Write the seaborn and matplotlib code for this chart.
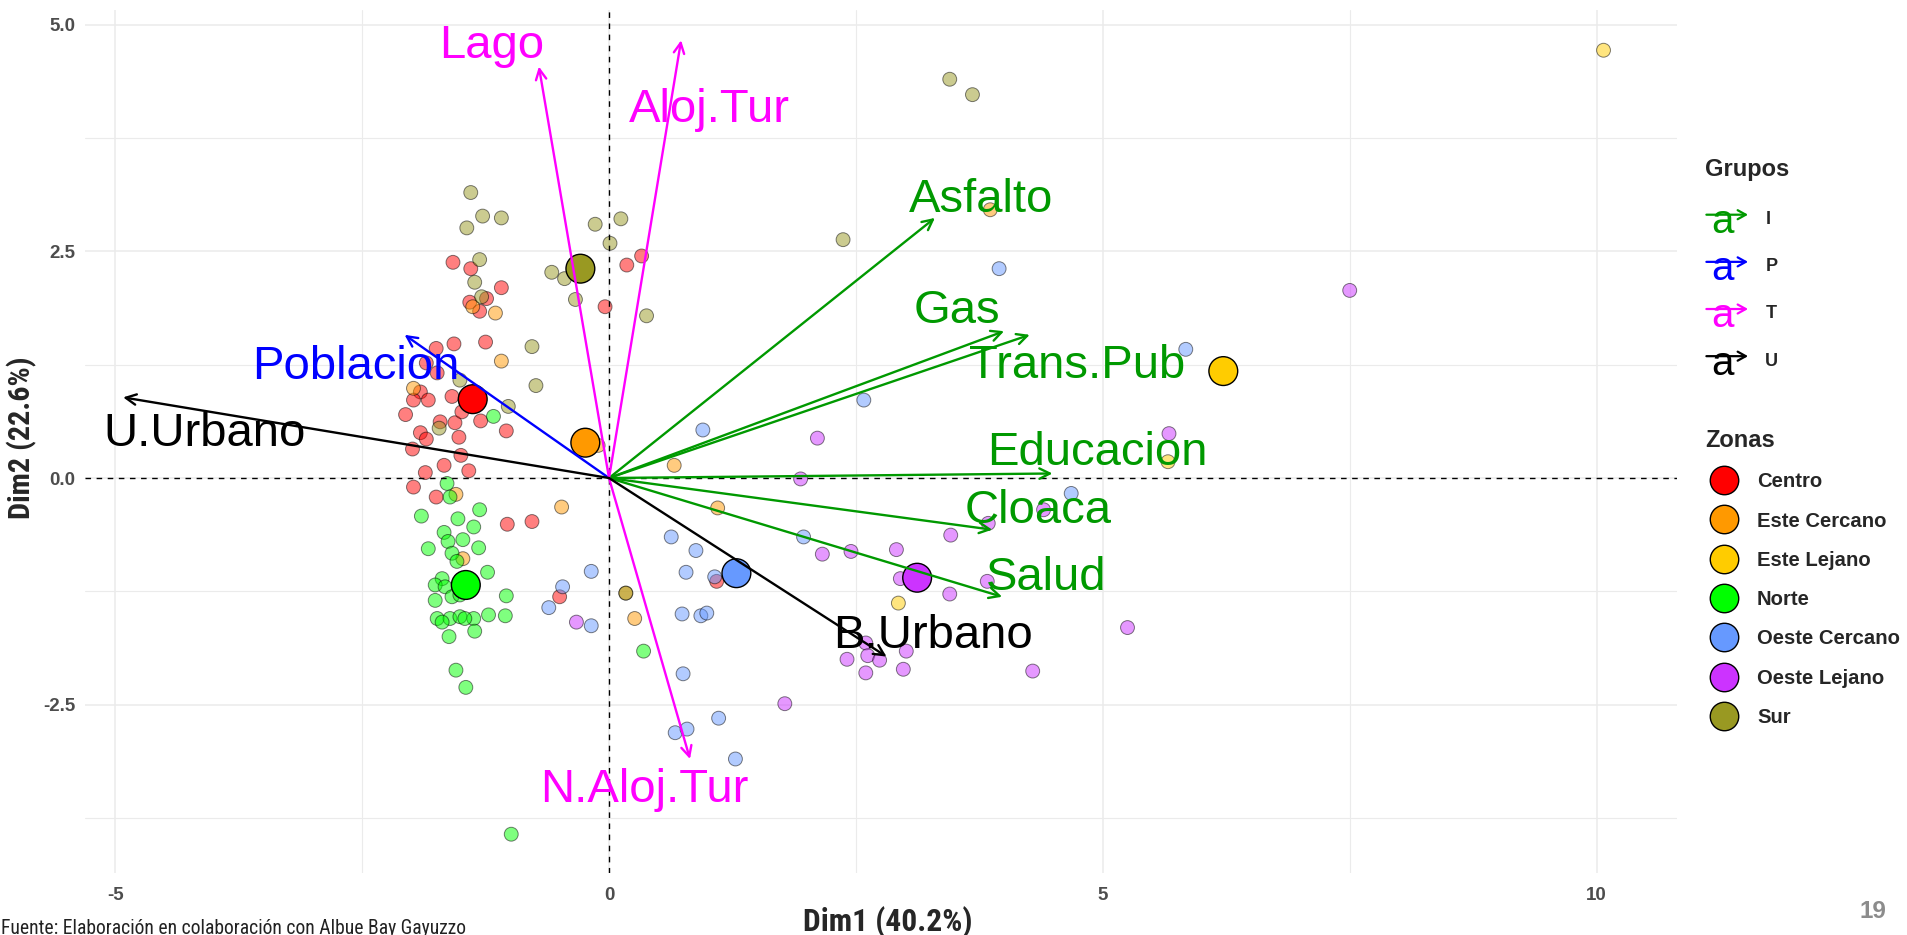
import matplotlib
matplotlib.use("Agg")
import matplotlib.pyplot as plt
import numpy as np
import pandas as pd
import seaborn as sns
from matplotlib.lines import Line2D
from matplotlib.legend_handler import HandlerBase
from matplotlib.patches import FancyArrowPatch
from matplotlib.text import Text
from matplotlib import font_manager as fm

# ---------------- data ----------------
zones = ["Centro", "Este Cercano", "Este Lejano", "Norte",
         "Oeste Cercano", "Oeste Lejano", "Sur"]
zone_colors = ["#FF0000", "#FF9900", "#FFCC00", "#00FF00",
               "#6699FF", "#CC33FF", "#999922"]

centro_x = [-1.58, -1.40, -1.09, -1.24, -1.41, -1.31, 0.18, 0.33, -0.04, -1.57, -1.25, -1.75,
            -1.74, -1.85, -1.91, -1.59, -1.98, -1.83, -2.06, -1.71, -1.56, -1.49, -1.30, -1.91,
            -1.85, -1.52, -1.04, -1.99, -1.50, -1.67, -1.86, -1.42, -1.98, -1.75, -1.03, -0.78,
            -0.50, 1.09]
centro_y = [2.38, 2.31, 2.10, 1.98, 1.94, 1.84, 2.35, 2.45, 1.89, 1.48, 1.50, 1.43,
            1.16, 1.27, 0.95, 0.90, 0.86, 0.86, 0.70, 0.62, 0.61, 0.73, 0.63, 0.50,
            0.43, 0.45, 0.52, 0.32, 0.25, 0.14, 0.06, 0.08, -0.10, -0.21, -0.51, -0.48,
            -1.31, -1.14]

este_cercano_x = [-1.38, -1.15, -1.09, -1.98, -0.11, 0.66, -1.55, -0.48, 1.10, -1.48, 0.26, 0.17, 3.86]
este_cercano_y = [1.89, 1.82, 1.29, 0.99, 0.36, 0.14, -0.18, -0.32, -0.33, -0.89, -1.55, -1.27, 2.96]

este_lejano_x = [10.07, 5.66, 2.93]
este_lejano_y = [4.72, 0.18, -1.38]

norte_x = [-1.17, -1.64, -1.61, -1.31, -1.90, -1.53, -1.37, -1.67, -1.48, -1.63, -1.83, -1.32,
           -1.59, -1.54, -1.23, -1.69, -1.76, -1.66, -1.04, -1.76, -1.59, -1.51, -1.74, -1.61,
           -1.51, -1.37, -1.22, -1.05, -1.69, -1.46, -1.36, -1.62, -1.55, -1.45, 0.35, -0.99]
norte_y = [0.68, -0.06, -0.21, -0.35, -0.42, -0.45, -0.54, -0.60, -0.68, -0.70, -0.78, -0.77,
           -0.83, -0.92, -1.04, -1.11, -1.18, -1.20, -1.30, -1.35, -1.31, -1.29, -1.55, -1.55,
           -1.53, -1.55, -1.51, -1.52, -1.59, -1.55, -1.69, -1.75, -2.12, -2.31, -1.91, -3.93]

oeste_cercano_x = [0.95, 0.63, 0.88, 0.78, 1.07, -0.18, -0.47, -0.61, -0.18, 0.74, 0.93, 0.99,
                   0.75, 1.11, 0.67, 0.79, 1.28, 3.95, 5.84, 2.58, 4.68, 1.97]
oeste_cercano_y = [0.53, -0.65, -0.80, -1.04, -1.09, -1.03, -1.20, -1.43, -1.63, -1.50, -1.52, -1.49,
                   -2.16, -2.65, -2.81, -2.77, -3.10, 2.31, 1.42, 0.86, -0.17, -0.65]

oeste_lejano_x = [-0.33, 1.78, 2.11, 1.94, 4.40, 3.84, 3.46, 2.16, 2.45, 2.91, 2.95, 3.83,
                  3.45, 5.25, 2.60, 3.01, 2.41, 2.62, 2.74, 2.60, 2.98, 4.29, 5.67, 7.50]
oeste_lejano_y = [-1.59, -2.49, 0.44, -0.01, -0.35, -0.50, -0.63, -0.84, -0.81, -0.79, -1.11, -1.14,
                  -1.28, -1.65, -1.82, -1.91, -2.00, -1.96, -2.01, -2.15, -2.11, -2.13, 0.49, 2.07]

sur_x = [-1.40, -1.28, -1.09, -1.44, -0.14, 0.12, 0.01, -1.31, -1.36, -0.58, -0.45, -0.34,
         -1.29, 0.38, -0.78, -0.74, -1.51, -1.02, -1.72, 3.45, 3.68, 2.37, 0.17]
sur_y = [3.15, 2.89, 2.87, 2.76, 2.80, 2.86, 2.59, 2.41, 2.16, 2.27, 2.20, 1.97,
         2.00, 1.79, 1.45, 1.02, 1.08, 0.79, 0.55, 4.40, 4.23, 2.63, -1.27]

centroid_x = [-1.38, -0.24, 6.22, -1.45, 1.29, 3.12, -0.29]
centroid_y = [0.87, 0.39, 1.18, -1.18, -1.05, -1.10, 2.31]

var_names = ["Asfalto", "Gas", "Trans.Pub", "Educacion", "Cloaca", "Salud",
             "Poblacion", "Lago", "Aloj.Tur", "N.Aloj.Tur", "U.Urbano", "B.Urbano"]
var_group = ["I", "I", "I", "I", "I", "I", "P", "T", "T", "T", "U", "U"]
var_x = [3.30, 4.00, 4.26, 4.49, 3.88, 3.98, -2.07, -0.71, 0.73, 0.82, -4.92, 2.81]
var_y = [2.87, 1.62, 1.58, 0.05, -0.57, -1.31, 1.58, 4.54, 4.83, -3.10, 0.89, -1.97]

groups = ["I", "P", "T", "U"]
group_colors = ["#009900", "#0000FF", "#FF00FF", "#000000"]

x_ticks = [-5, 0, 5, 10]
y_ticks = [-2.5, 0.0, 2.5, 5.0]
x_label = "Dim1 (40.2%)"
y_label = "Dim2 (22.6%)"
source_text = "Fuente: Elaboración en colaboración con Albue Bay Gayuzzo"
page_number = "19"

# label anchor positions (layout, baseline-centred)
label_pos_x = [3.77, 3.52, 4.74, 4.94, 4.35, 4.43, -2.56, -1.19, 1.02, 0.36, -4.10, 3.28]
label_pos_y = [2.94, 1.71, 1.10, 0.14, -0.50, -1.24, 1.09, 4.63, 3.93, -3.57, 0.35, -1.88]

# ---------------- build frames ----------------
zone_x = [centro_x, este_cercano_x, este_lejano_x, norte_x, oeste_cercano_x, oeste_lejano_x, sur_x]
zone_y = [centro_y, este_cercano_y, este_lejano_y, norte_y, oeste_cercano_y, oeste_lejano_y, sur_y]
rows = []
for z, xs, ys in zip(zones, zone_x, zone_y):
    for a, b in zip(xs, ys):
        rows.append((a, b, z))
pts = pd.DataFrame(rows, columns=["x", "y", "zona"])
cent = pd.DataFrame({"x": centroid_x, "y": centroid_y, "zona": zones})
palette = dict(zip(zones, zone_colors))
gcol = dict(zip(groups, group_colors))

# ---------------- style / fonts ----------------
sns.set_style("white")
avail = {f.name for f in fm.fontManager.ttflist}
base_font = "Liberation Sans" if "Liberation Sans" in avail else "DejaVu Sans"
plt.rcParams["font.family"] = [base_font, "DejaVu Sans"]


def find_condensed(bold):
    prefs = ["liberation sans narrow", "roboto condensed", "open sans condensed",
             "noto sans", "dejavu sans", "open sans", "roboto"]
    cands = []
    for f in fm.fontManager.ttflist:
        n = f.name.lower()
        st = str(f.stretch).lower()
        fn = f.fname.lower()
        is_cond = ("narrow" in n or "condensed" in n or "condensed" in st
                   or "narrow" in fn or "condensed" in fn)
        if not is_cond or f.style != "normal":
            continue
        w = f.weight if isinstance(f.weight, int) else (700 if "bold" in str(f.weight) else 400)
        if bold and w < 600:
            continue
        if not bold and (w > 500 or w < 350):
            continue
        if "semi" in fn or "extra" in fn or "ultra" in fn:
            rank_extra = 1
        else:
            rank_extra = 0
        rank = next((i for i, p in enumerate(prefs) if n.startswith(p)), len(prefs))
        cands.append((rank, rank_extra, f.fname))
    if cands:
        cands.sort()
        return fm.FontProperties(fname=cands[0][2])
    return fm.FontProperties(family=base_font, weight="bold" if bold else "normal")


cond_bold = find_condensed(True)
cond_reg = find_condensed(False)

W, H = 1907, 935
fig = plt.figure(figsize=(W / 100, H / 100), dpi=100)
fig.patch.set_facecolor("white")
ax = fig.add_axes([85 / W, 62 / H, (1677 - 85) / W, (873 - 10) / H])
ax.set_facecolor("white")

ax.set_xlim(-5.306, 10.814)
ax.set_ylim(-4.358, 5.164)

# grid
ax.set_xticks(x_ticks)
ax.set_yticks(y_ticks)
ax.set_xticks([-2.5, 2.5, 7.5], minor=True)
ax.set_yticks([-3.75, -1.25, 1.25, 3.75], minor=True)
ax.grid(True, which="major", color="#EBEBEB", lw=1.1, zorder=0)
ax.grid(True, which="minor", color="#EBEBEB", lw=0.8, zorder=0)
ax.set_axisbelow(True)
for s in ax.spines.values():
    s.set_visible(False)
ax.set_xticklabels(["-5", "0", "5", "10"])
ax.set_yticklabels(["-2.5", "0.0", "2.5", "5.0"])
ax.tick_params(which="major", length=4, width=1, color="#333333",
               labelcolor="#4D4D4D", labelsize=13.5)
ax.tick_params(axis="x", pad=6)
ax.tick_params(axis="y", pad=3)
ax.tick_params(which="minor", length=0)
for lab in ax.get_xticklabels() + ax.get_yticklabels():
    lab.set_fontweight("bold")

# reference lines
ax.axhline(0, color="black", lw=1.0, ls=(0, (4, 4)), zorder=2.5)
ax.axvline(0, color="black", lw=1.0, ls=(0, (4, 4)), zorder=2.5)

# individual points
sns.scatterplot(data=pts, x="x", y="y", hue="zona", hue_order=zones, palette=palette,
                s=100, alpha=0.5, edgecolor="black", linewidth=0.7, legend=False,
                ax=ax, zorder=2)
# centroids
sns.scatterplot(data=cent, x="x", y="y", hue="zona", hue_order=zones, palette=palette,
                s=430, alpha=1.0, edgecolor="black", linewidth=1.0, legend=False,
                ax=ax, zorder=3)
ax.set_xlabel("")
ax.set_ylabel("")

# variable arrows and labels
for name, g, vx, vy, lx, ly in zip(var_names, var_group, var_x, var_y, label_pos_x, label_pos_y):
    c = gcol[g]
    ax.annotate("", xy=(vx, vy), xytext=(0, 0),
                arrowprops=dict(arrowstyle="->,head_length=0.5,head_width=0.25",
                                color=c, lw=1.7, shrinkA=0, shrinkB=0,
                                mutation_scale=15), zorder=4)
    ax.text(lx, ly, name, color=c, fontsize=34, ha="center", va="baseline", zorder=5)

# ---------------- legends ----------------
class HandlerArrowA(HandlerBase):
    def create_artists(self, legend, orig_handle, xdescent, ydescent,
                       width, height, fontsize, trans):
        c = orig_handle.get_color()
        x0, y0 = -xdescent, -ydescent
        t = Text(x0 + 12.5, y0 - 6.5, "a", color=c, fontsize=29,
                 ha="center", va="baseline", fontfamily=base_font, transform=trans)
        ar = FancyArrowPatch((x0 + 1, y0 + 6.8), (x0 + 31, y0 + 6.8),
                             arrowstyle="->,head_length=0.45,head_width=0.25",
                             mutation_scale=13, color=c, lw=1.6,
                             shrinkA=0, shrinkB=0, transform=trans)
        return [t, ar]

g_handles = [Line2D([], [], color=c) for c in group_colors]
leg1 = fig.legend(g_handles, groups, loc="upper left",
                  bbox_to_anchor=(1705 / W, 1 - 158 / H), bbox_transform=fig.transFigure,
                  frameon=False, borderpad=0, borderaxespad=0,
                  handler_map={Line2D: HandlerArrowA()},
                  prop={"weight": "bold", "size": 13, "family": base_font},
                  title="Grupos", title_fontproperties={"weight": "bold", "size": 17, "family": base_font},
                  handlelength=2.46, handletextpad=0.88, labelspacing=1.67,
                  alignment="left")

z_handles = [Line2D([], [], ls="", marker="o", markersize=20.5, markerfacecolor=c,
                    markeredgecolor="black", markeredgewidth=1.0) for c in zone_colors]
leg2 = fig.legend(z_handles, zones, loc="upper left",
                  bbox_to_anchor=(1705 / W, 1 - 429 / H), bbox_transform=fig.transFigure,
                  frameon=False, borderpad=0, borderaxespad=0,
                  prop={"weight": "bold", "size": 14.6, "family": base_font},
                  title="Zonas", title_fontproperties={"weight": "bold", "size": 17, "family": base_font},
                  handlelength=1.88, handletextpad=0.68, labelspacing=1.0,
                  alignment="left")

# ---------------- figure texts ----------------
xl = fig.text(888 / W, 1 - 922 / H, x_label, ha="center", va="center",
              fontproperties=cond_bold, fontsize=19)
yl = fig.text(22 / W, 1 - 438 / H, y_label, ha="center", va="center", rotation=90,
              fontproperties=cond_bold, fontsize=19)
src = fig.text(1 / W, 1 - 919 / H, source_text, ha="left", va="top",
               fontproperties=cond_reg, fontsize=15, color="#222222")
pg = fig.text(1873 / W, 1 - 912 / H, page_number, ha="center", va="center",
              fontsize=17.5, fontweight="bold", color="#8C8C8C")

fig.canvas.draw()
r = fig.canvas.get_renderer()


def fit(t, target, use_height=False):
    bb = t.get_window_extent(r)
    cur = bb.height if use_height else bb.width
    t.set_fontsize(t.get_fontsize() * target / cur)


fit(xl, 170)
fit(yl, 162, use_height=True)
fit(src, 468)

fig.savefig("out.png", dpi=100, facecolor="white")
